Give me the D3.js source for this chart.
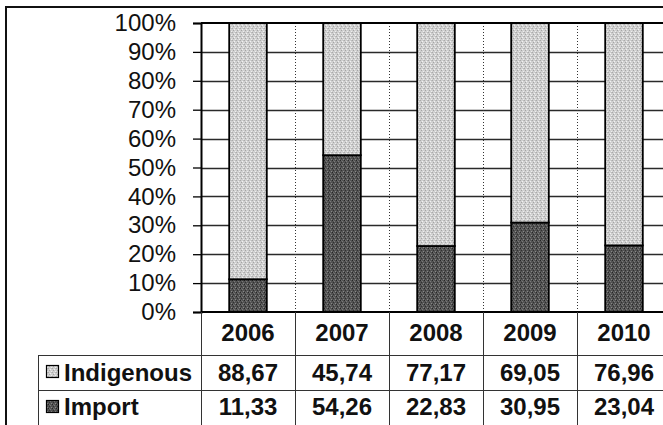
<!DOCTYPE html>
<html>
<head>
<meta charset="utf-8">
<script src="https://cdn.jsdelivr.net/npm/d3@7"></script>
<style>
  html, body { margin: 0; padding: 0; background: #fff; }
  svg { display: block; font-family: "Liberation Sans", Arial, sans-serif; }
</style>
</head>
<body>
<svg id="chart" width="663" height="425"></svg>
<script>
// Share of supply by source, per year (percent)
const years = ["2006", "2007", "2008", "2009", "2010"];
const seriesNames = ["Import", "Indigenous"];
const importValues = [11.33, 54.26, 22.83, 30.95, 23.04];
const indigenousValues = [88.67, 45.74, 77.17, 69.05, 76.96];
const importLabels = ["11,33", "54,26", "22,83", "30,95", "23,04"];
const indigenousLabels = ["88,67", "45,74", "77,17", "69,05", "76,96"];
const yTicks = [0, 0.1, 0.2, 0.3, 0.4, 0.5, 0.6, 0.7, 0.8, 0.9, 1.0];

const svg = d3.select("#chart");

// frame geometry
const plot = { left: 201, right: 671, top: 23, bottom: 312 };
const table = { left: 38, catBottom: 355, row1Bottom: 390, bottom: 430 };

// stipple textures for the two series
const defs = svg.append("defs");
function stipple(id, base, dots) {
  const p = defs.append("pattern")
    .attr("id", id).attr("patternUnits", "userSpaceOnUse")
    .attr("width", 4).attr("height", 4);
  p.append("rect").attr("width", 4).attr("height", 4).attr("fill", base);
  dots.forEach(([x, y, c]) => p.append("rect")
    .attr("x", x).attr("y", y).attr("width", 1).attr("height", 1).attr("fill", c));
}
stipple("texLight", "#d0d0d0", [[0,0,"#aaaaaa"],[2,1,"#f2f2f2"],[1,2,"#a4a4a4"],[3,3,"#eeeeee"],[3,0,"#bcbcbc"]]);
stipple("texDark", "#525252", [[0,0,"#262626"],[2,1,"#7a7a7a"],[1,2,"#303030"],[3,3,"#888888"],[1,0,"#6a6a6a"]]);
const fills = { Import: "url(#texDark)", Indigenous: "url(#texLight)" };

// scales
const x = d3.scaleBand().domain(years).range([plot.left, plot.right]).padding(0);
const y = d3.scaleLinear().domain([0, 1]).range([plot.bottom, plot.top]);

const rows = years.map((yr, i) => ({ year: yr, Import: importValues[i], Indigenous: indigenousValues[i] }));
const stacked = d3.stack().keys(seriesNames).offset(d3.stackOffsetExpand)(rows);

// outer chart frame
svg.append("path")
  .attr("d", "M6,440 L6,7 L680,7")
  .attr("fill", "none").attr("stroke", "#111").attr("stroke-width", 2);

// horizontal gridlines
svg.append("g").selectAll("line").data(yTicks.slice(1, -1)).join("line")
  .attr("x1", plot.left).attr("x2", plot.right)
  .attr("y1", d => Math.round(y(d)) + 0.5).attr("y2", d => Math.round(y(d)) + 0.5)
  .attr("stroke", "#2a2a2a").attr("stroke-width", 1.3);

// dotted category dividers inside the plot
svg.append("g").selectAll("line").data(years.slice(1)).join("line")
  .attr("x1", d => Math.round(x(d)) + 0.5).attr("x2", d => Math.round(x(d)) + 0.5)
  .attr("y1", plot.top).attr("y2", plot.bottom)
  .attr("stroke", "#333").attr("stroke-width", 1).attr("stroke-dasharray", "1,2");

// stacked bars
const barW = x.bandwidth() * 0.4;
svg.append("g").selectAll("g").data(stacked).join("g")
  .attr("fill", d => fills[d.key])
  .selectAll("rect").data(d => d).join("rect")
  .attr("x", d => x(d.data.year) + (x.bandwidth() - barW) / 2)
  .attr("width", barW)
  .attr("y", d => y(d[1]))
  .attr("height", d => y(d[0]) - y(d[1]))
  .attr("stroke", "#000").attr("stroke-width", 1.8);

// plot top edge and axis lines
svg.append("line")
  .attr("x1", plot.left).attr("x2", plot.right).attr("y1", plot.top).attr("y2", plot.top)
  .attr("stroke", "#000").attr("stroke-width", 2);
svg.append("line")
  .attr("x1", plot.left).attr("x2", plot.right).attr("y1", plot.bottom).attr("y2", plot.bottom)
  .attr("stroke", "#000").attr("stroke-width", 2);

// y axis with percent labels
const yAxis = d3.axisLeft(y).tickValues(yTicks).tickFormat(d3.format(".0%"))
  .tickSize(8).tickPadding(17);
const ya = svg.append("g").attr("transform", `translate(${plot.left},0)`).call(yAxis);
ya.select(".domain").attr("stroke", "#000").attr("stroke-width", 2);
ya.selectAll(".tick line").attr("stroke", "#000").attr("stroke-width", 1.3);
ya.selectAll(".tick text")
  .attr("font-size", 24).attr("font-family", "'Liberation Sans', Arial, sans-serif")
  .attr("fill", "#111");

// data table below the plot
const tbl = svg.append("g");
const lineColor = "#333";
// column dividers
tbl.selectAll("line.col").data(years).join("line")
  .attr("class", "col")
  .attr("x1", d => Math.round(x(d)) + 0.5).attr("x2", d => Math.round(x(d)) + 0.5)
  .attr("y1", plot.bottom).attr("y2", table.bottom)
  .attr("stroke", lineColor).attr("stroke-width", 1);
// row dividers
[table.catBottom, table.row1Bottom].forEach(yy => {
  tbl.append("line")
    .attr("x1", table.left).attr("x2", plot.right)
    .attr("y1", yy + 0.5).attr("y2", yy + 0.5)
    .attr("stroke", lineColor).attr("stroke-width", 1);
});
// left edge of legend column
tbl.append("line")
  .attr("x1", table.left + 0.5).attr("x2", table.left + 0.5)
  .attr("y1", table.catBottom).attr("y2", table.bottom)
  .attr("stroke", lineColor).attr("stroke-width", 1);

const cellText = { "font-size": 24, "font-weight": "bold", fill: "#111", "text-anchor": "middle" };
function applyText(sel) { Object.entries(cellText).forEach(([k, v]) => sel.attr(k, v)); return sel; }

// category headers
applyText(tbl.selectAll("text.cat").data(years).join("text").attr("class", "cat"))
  .attr("x", d => x(d) + x.bandwidth() / 2).attr("y", 341)
  .text(d => d);

// series rows
const tableRows = [
  { name: "Indigenous", labels: indigenousLabels, baseline: 381, swatchY: 365 },
  { name: "Import", labels: importLabels, baseline: 415, swatchY: 400 }
];
tableRows.forEach(r => {
  applyText(tbl.append("g").selectAll("text").data(years).join("text"))
    .attr("x", d => x(d) + x.bandwidth() / 2).attr("y", r.baseline)
    .text((d, i) => r.labels[i]);
  tbl.append("rect")
    .attr("x", 46.5).attr("y", r.swatchY + 0.5).attr("width", 12).attr("height", 12)
    .attr("fill", fills[r.name]).attr("stroke", "#000").attr("stroke-width", 1.2);
  applyText(tbl.append("text"))
    .attr("text-anchor", "start").attr("x", 64).attr("y", r.baseline)
    .text(r.name);
});
</script>
</body>
</html>
